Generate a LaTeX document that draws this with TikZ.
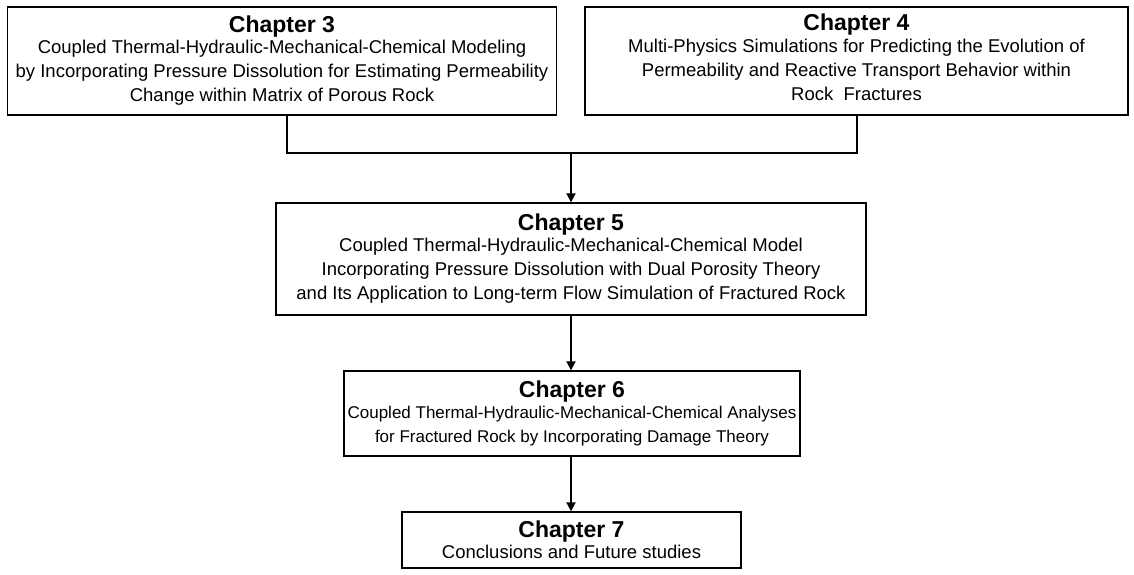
\documentclass[tikz,border=0pt]{standalone}
\usepackage{fontspec}
\setmainfont{Liberation Sans}
\usetikzlibrary{arrows.meta}
\tikzset{
  chbox/.style={draw=black, line width=1.4pt, inner sep=0pt, align=center,
    font=\fontsize{18.5}{24}\selectfont},
  conn/.style={line width=1.8pt},
  arr/.style={line width=1.8pt, -{Triangle[length=9pt,width=9pt]}},
}
\newcommand{\chtitle}[1]{{\fontsize{23}{24}\selectfont\bfseries #1}}
\begin{document}
\begin{tikzpicture}[x=1pt,y=-1pt]
\useasboundingbox (0,0) rectangle (1134,574);
\node[chbox, minimum width=549pt, minimum height=108pt] (c3) at (282,61)
 {\chtitle{Chapter 3}\\[-3pt]Coupled Thermal-Hydraulic-Mechanical-Chemical Modeling\\by Incorporating Pressure Dissolution for Estimating Permeability\\Change within Matrix of Porous Rock};
\node[chbox, minimum width=543pt, minimum height=108pt] (c4) at (856.5,61)
 {\chtitle{Chapter 4}\\[-2pt]Multi-Physics Simulations for Predicting the Evolution of\\Permeability and Reactive Transport Behavior within\\Rock\ \ Fractures\strut};
\node[chbox, minimum width=590pt, minimum height=112pt] (c5) at (571,259)
 {\chtitle{Chapter 5}\\[-3pt]Coupled Thermal-Hydraulic-Mechanical-Chemical Model\\Incorporating Pressure Dissolution with Dual Porosity Theory\\and Its Application to Long-term Flow Simulation of Fractured Rock};
\node[chbox, minimum width=456pt, minimum height=85pt, font=\fontsize{17}{24}\selectfont] (c6) at (572,413.5)
 {\chtitle{Chapter 6}\\[-3pt]Coupled Thermal-Hydraulic-Mechanical-Chemical Analyses\\for Fractured Rock by Incorporating Damage Theory};
\node[chbox, minimum width=339pt, minimum height=56pt] (c7) at (571.5,540)
 {\chtitle{Chapter 7}\\[-3pt]Conclusions and Future studies};
\coordinate (j3) at (287,153);
\coordinate (j4) at (857,153);
\coordinate (jm) at (571,153);
\draw[conn] (c3.south -| j3) -- (j3) -- (j4) -- (c4.south -| j4);
\draw[arr] (jm) -- (c5.north -| jm);
\draw[arr] (c5.south -| jm) -- (c6.north -| jm);
\draw[arr] (c6.south -| jm) -- (c7.north -| jm);
\end{tikzpicture}
\end{document}
